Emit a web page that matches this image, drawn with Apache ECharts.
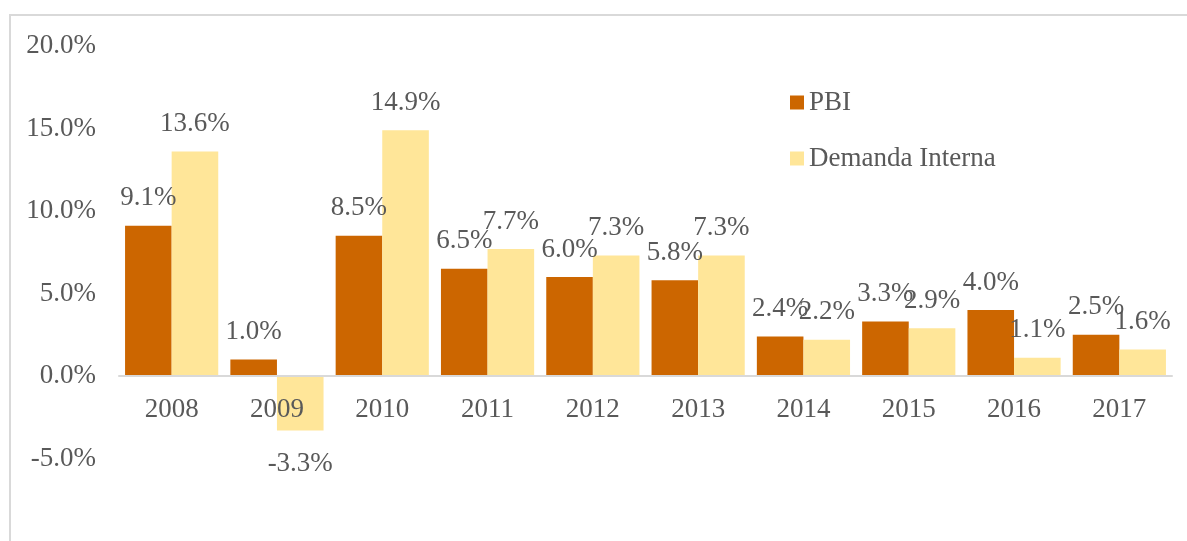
<!DOCTYPE html>
<html>
<head>
<meta charset="utf-8">
<script src="https://cdn.jsdelivr.net/npm/echarts@6/dist/echarts.min.js"></script>
<style>
    html, body { margin: 0; padding: 0; background: #fff; }
    #frame {
        position: absolute; left: 9px; top: 14px; width: 1200px; height: 600px;
        border: 2px solid #d9d9d9; box-sizing: border-box;
    }
    #main { position: absolute; left: 0; top: 0; width: 1187px; height: 541px; }
</style>
</head>
<body>
<div id="frame"></div>
<div id="main"></div>
<script>
// 数据
var years = ["2008", "2009", "2010", "2011", "2012", "2013", "2014", "2015", "2016", "2017"];
var pbi = [9.1, 1.0, 8.5, 6.5, 6.0, 5.8, 2.4, 3.3, 4.0, 2.5];
var demandaInterna = [13.6, -3.3, 14.9, 7.7, 7.3, 7.3, 2.2, 2.9, 1.1, 1.6];
var seriesNames = ["PBI", "Demanda Interna"];

window.addEventListener("load", function () {
    var myChart = echarts.init(document.getElementById("main"));
    var font = "'Liberation Serif', 'DejaVu Serif', serif";
    var textColor = "#595959";
    var fs = 27;

    var label = {
        show: true,
        position: "top",
        distance: 14,
        color: textColor,
        fontFamily: font,
        fontSize: fs,
        formatter: function (p) {
            return p.value.toFixed(1) + "%";
        }
    };

    // 负值的标签放在柱子下方
    function withLabelPos(arr) {
        return arr.map(function (v) {
            return v < 0 ? { value: v, label: { position: "bottom", distance: 20 } } : v;
        });
    }

    var option = {
        animation: false,
        color: ["#cc6600", "#ffe699"],
        textStyle: { fontFamily: font },
        legend: {
            orient: "vertical",
            left: 785,
            top: 84,
            itemWidth: 14,
            itemHeight: 14,
            itemGap: 29,
            icon: "rect",
            textStyle: { color: textColor, fontSize: fs, fontFamily: font },
            data: seriesNames
        },
        grid: {
            left: 119,
            right: 15,
            top: 46,
            bottom: 82.5,
            containLabel: false
        },
        xAxis: {
            type: "category",
            data: years,
            offset: -82.5,
            z: 5,
            axisTick: { show: false },
            axisLine: { onZero: false, lineStyle: { color: "#d9d9d9", width: 2 } },
            axisLabel: { color: textColor, fontSize: fs, fontFamily: font, margin: 20 }
        },
        yAxis: {
            type: "value",
            min: -5,
            max: 20,
            interval: 5,
            splitLine: { show: false },
            axisLine: { show: false },
            axisTick: { show: false },
            axisLabel: {
                color: textColor,
                fontSize: fs,
                fontFamily: font,
                margin: 23,
                formatter: function (v) { return v.toFixed(1) + "%"; }
            }
        },
        series: [
            {
                name: seriesNames[0],
                type: "bar",
                data: withLabelPos(pbi),
                barGap: "0%",
                barCategoryGap: "11.5%",
                label: label
            },
            {
                name: seriesNames[1],
                type: "bar",
                data: withLabelPos(demandaInterna),
                barGap: "0%",
                barCategoryGap: "11.5%",
                label: label
            }
        ]
    };

    myChart.setOption(option);
    window.addEventListener("resize", function () {
        myChart.resize();
    });
});
</script>
</body>
</html>
